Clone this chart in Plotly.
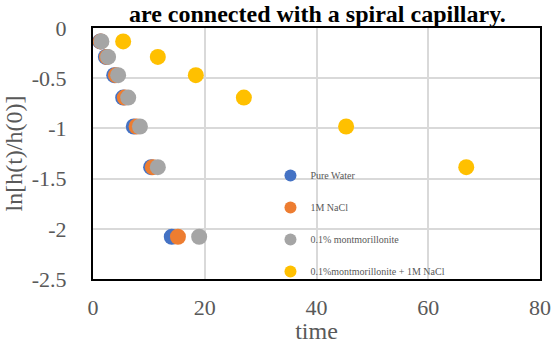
import plotly.graph_objects as go

# ln[h(t)/h(0)] levels
y_levels = [-0.134, -0.288, -0.470, -0.693, -0.981, -1.386, -2.079]

water_t = [1.3, 2.3, 3.8, 5.4, 7.3, 10.4, 14.1]
nacl_t = [1.4, 2.5, 4.1, 5.7, 7.8, 10.7, 15.2]
mont_t = [1.5, 2.7, 4.5, 6.3, 8.4, 11.6, 19.0]
montnacl_t = [5.4, 11.6, 18.4, 27.0, 45.3, 66.8]
montnacl_y = [-0.134, -0.288, -0.470, -0.693, -0.981, -1.386]

x_ticks = [0, 20, 40, 60, 80]
y_ticks = [0, -0.5, -1, -1.5, -2, -2.5]
y_tick_text = ["0", "-0.5", "-1", "-1.5", "-2", "-2.5"]

series = [
    ("Pure Water", water_t, y_levels, "#4472C4"),
    ("1M NaCl", nacl_t, y_levels, "#ED7D31"),
    ("0.1% montmorillonite", mont_t, y_levels, "#A5A5A5"),
    ("0.1%montmorillonite + 1M NaCl", montnacl_t, montnacl_y, "#FFC000"),
]

fig = go.Figure()
for i, (name, xs, ys, col) in enumerate(series):
    fig.add_trace(go.Scatter(
        x=xs, y=ys, mode="markers", name=name, legendgroup=str(i),
        marker=dict(size=16, color=col),
    ))

serif = "Liberation Serif, Times New Roman, DejaVu Serif, serif"
fig.update_layout(
    width=554, height=344,
    margin=dict(l=93, r=14, t=28, b=65),
    paper_bgcolor="white", plot_bgcolor="white",
    title=dict(text="<b>are connected with a spiral capillary.</b>",
               x=0.573, xanchor="center", y=0.984, yanchor="top", yref="container",
               font=dict(family=serif, size=24, color="black")),
    legend=dict(x=0.397, y=0.47, xanchor="left", yanchor="top",
                bgcolor="rgba(0,0,0,0)", font=dict(family=serif, size=10, color="#595959"),
                tracegroupgap=13, itemsizing="constant", itemwidth=30),
    xaxis=dict(range=[0, 80], tickvals=x_ticks, showgrid=True, gridcolor="#d9d9d9", gridwidth=1.5,
               zeroline=False, showline=True, linecolor="black", linewidth=2, mirror=True,
               ticks="outside", ticklen=8, tickcolor="rgba(0,0,0,0)", automargin=False,
               tickfont=dict(family=serif, size=22, color="#595959"),
               title=dict(text="time", font=dict(family=serif, size=24, color="#595959"), standoff=2)),
    yaxis=dict(range=[-2.5, 0], tickvals=y_ticks, ticktext=y_tick_text, showgrid=True,
               gridcolor="#d9d9d9", gridwidth=1.5, automargin=False,
               zeroline=False, showline=True, linecolor="black", linewidth=2, mirror=True,
               ticks="outside", ticklen=20, tickcolor="rgba(0,0,0,0)",
               tickfont=dict(family=serif, size=22, color="#595959"),
               title=dict(text="ln[h(t)/h(0)]", font=dict(family=serif, size=24, color="#595959"), standoff=2)),
)

fig.write_html("out.html", config={"displayModeBar": False},
               post_script="document.body.style.margin='0';document.body.style.padding='0';document.body.style.overflow='hidden';")
